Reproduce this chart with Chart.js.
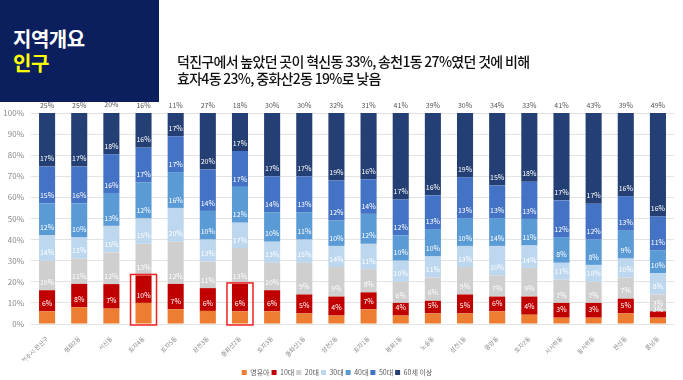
<!DOCTYPE html>
<html><head><meta charset="utf-8">
<script src="https://cdn.jsdelivr.net/npm/chart.js@4/dist/chart.umd.min.js"></script>
<style>
html,body{margin:0;padding:0;background:#fff;width:683px;height:380px;overflow:hidden;font-family:"Noto Sans CJK KR","Noto Sans",sans-serif;}
#wrap{position:absolute;left:0;top:0;width:683px;height:380px;}
#hdr{position:absolute;left:0;top:0;width:159px;height:102px;background:#0b1f5e;z-index:2;}
#hdr .t1{position:absolute;left:13px;top:27px;color:#fff;font-weight:700;font-size:20px;letter-spacing:-0.5px;line-height:24px;}
#hdr .t2{position:absolute;left:13px;top:51px;color:#ffff00;font-weight:700;font-size:20px;letter-spacing:-0.5px;line-height:24px;}
#sub{position:absolute;left:177px;top:53px;color:#111;font-size:14px;font-weight:500;letter-spacing:-0.7px;line-height:17px;z-index:2;white-space:nowrap;}
</style></head>
<body>
<div id="hdr"><div class="t1">지역개요</div><div class="t2">인구</div></div>
<div id="sub">덕진구에서 높았던 곳이 혁신동 33%, 송천1동 27%였던 것에 비해<br>효자4동 23%, 중화산2동 19%로 낮음</div>
<div id="wrap"><canvas id="c" width="683" height="380"></canvas></div>
<script>
const categories = ['전주시 완산구','평화2동','서신동','효자4동','효자5동','삼천3동','중화산2동','효자3동','중화산1동','삼천2동','효자1동','평화1동','노송동','삼천1동','중앙동','효자2동','서서학동','동서학동','완산동','풍남동'];
const seriesNames = ['영유아','10대','20대','30대','40대','50대','60세 이상'];
const infant    = [6,8,7.3,10,7,6.2,6,6,5,4,7,4,5,5,6,4.4,3,3,5,3];
const teens     = [10,11,11.6,13,12,10.8,13,10,9,9,8,6,6,9,7,8.6,7,7,7,3];
const twenties  = [14,12,15,15,20,12.6,17,13,15,14,11,10,11,13,10,13.6,11,10,10,8];
const thirties  = [12,10,12.6,12,16,10.4,12,10,11,10,12,10,10,10,14,10.6,8,8,9,10];
const forties   = [15.2,16.2,15.6,17.2,17,13.6,17,14,13,12,14.2,12,13,13.2,13.2,12.6,12.2,12,13.2,11];
const fifties   = [17.4,17.4,18.4,16.4,17,19.6,17,17,17,19,16.4,17,16,19.4,15.4,17.6,17.4,17,16.4,16];
const sixtyPlus = [25.4,25.4,19.6,16.4,11,26.8,18,30,30,32,31.4,41,39,30.4,34.4,32.6,41.4,43,39.4,49];
const yTicks = [0,10,20,30,40,50,60,70,80,90,100];
const highlighted = [3,6];

const colors = ['#ed7d31','#c00000','#d0cfcf','#bdd7ee','#5b9bd5','#4472c4','#233f74'];
const seriesData = [infant,teens,twenties,thirties,forties,fifties,sixtyPlus];

const labelPlugin = {
  id:'segLabels',
  afterLayout(chart){
    if (chart.legend){ chart.legend.top += 6; chart.legend.bottom += 6; }
  },
  afterDatasetsDraw(chart){
    const ctx = chart.ctx;
    ctx.save();
    ctx.font = '7px "Noto Sans CJK KR", sans-serif';
    ctx.textAlign = 'center';
    ctx.textBaseline = 'middle';
    const n = chart.data.datasets.length;
    chart.data.datasets.forEach((ds,i)=>{
      const meta = chart.getDatasetMeta(i);
      meta.data.forEach((el,j)=>{
        const v = ds.data[j];
        ctx.fillStyle = (i===n-1) ? '#555' : '#ffffff';
        ctx.fillText(Math.round(v)+'%', el.x, el.y-8);
      });
    });
    const xs = chart.scales.x, ys = chart.scales.y;
    ctx.strokeStyle = '#ee2222';
    ctx.lineWidth = 1.5;
    highlighted.forEach(j=>{
      const cx = xs.getPixelForValue(j);
      const top = ys.getPixelForValue(infant[j]+teens[j]) - 1;
      const bot = ys.getPixelForValue(0) + 1;
      ctx.strokeRect(cx-13, top, 26, bot-top);
    });
    ctx.restore();
  }
};

new Chart(document.getElementById('c'), {
  type:'bar',
  data:{
    labels: categories,
    datasets: seriesNames.map((name,i)=>({
      label:name, data:seriesData[i], backgroundColor:colors[i],
      barPercentage:0.5, categoryPercentage:1.0, borderWidth:0
    }))
  },
  options:{
    responsive:false, animation:false,
    layout:{padding:{top:113,left:0,right:9,bottom:0}},
    plugins:{
      legend:{position:'bottom', labels:{boxWidth:5, boxHeight:5, padding:2, font:{size:7, family:'"Noto Sans CJK KR"'}, color:'#595959'}},
      tooltip:{enabled:false}
    },
    scales:{
      x:{stacked:true, grid:{display:false}, border:{display:false},
         ticks:{minRotation:45, maxRotation:45, autoSkip:false, font:{size:6, family:'"Noto Sans CJK KR"'}, color:'#8a8a8a', padding:3},
         afterFit(s){ s.height = 37; }},
      y:{stacked:true, min:0, max:100, border:{display:false},
         grid:{color:'#e3e3e3', drawTicks:false},
         afterBuildTicks(s){ s.ticks = yTicks.map(v=>({value:v})); },
         ticks:{callback:v=>v+'%', font:{size:8, family:'"Noto Sans CJK KR"'}, color:'#8a8a8a', padding:7},
         afterFit(s){ s.width = 31; }}
    }
  },
  plugins:[labelPlugin]
});
</script>
</body></html>
